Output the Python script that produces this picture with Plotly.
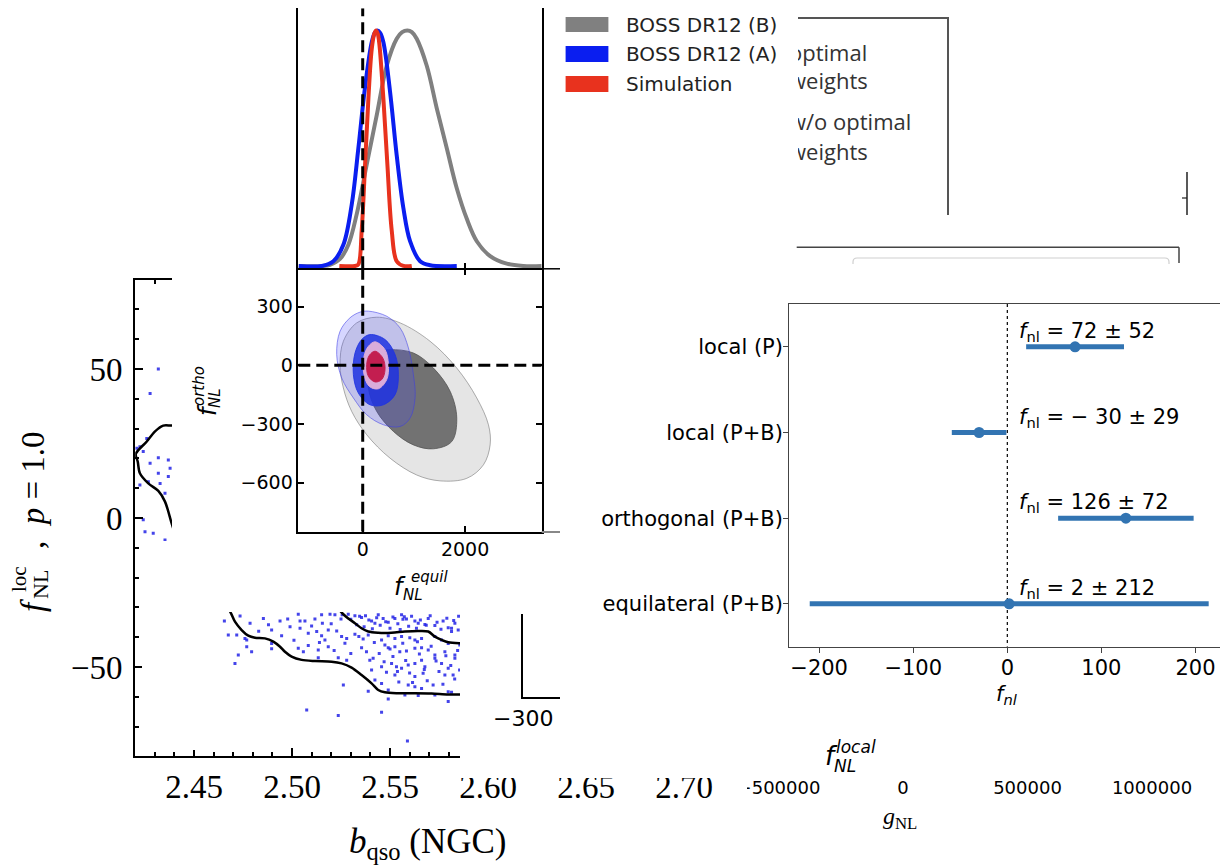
import plotly.graph_objects as go

W, H = 1228, 865
OFF = 8  # the page body adds an 8px margin; layout positions below are given in screen pixels

# ---------------- data ----------------
# left panel: b_qso (NGC) vs f_NL^loc, p = 1.0 (MCMC samples + contour segments)
bqso_x = [2.4318, 2.4276, 2.4208, 2.4224, 2.4259, 2.4241, 2.4318, 2.4276, 2.4369, 2.4378,
          2.4318, 2.4369, 2.4267, 2.4224, 2.4327, 2.4352, 2.4250, 2.4292, 2.4352, 2.4241,
          2.4655, 2.4735, 2.4786, 2.4854, 2.4939, 2.4978, 2.5032, 2.5041, 2.5066, 2.5117,
          2.5151, 2.5155, 2.5194, 2.5219, 2.5250, 2.5256, 2.5287, 2.5321, 2.5355, 2.5375,
          2.5406, 2.5423, 2.5440, 2.5465, 2.5491, 2.5525, 2.5559, 2.5573, 2.5584, 2.5627,
          2.5644, 2.5678, 2.5695, 2.5729, 2.5771, 2.5797, 2.5814, 2.5831, 2.5848,
          2.4675, 2.4718, 2.4760, 2.4769, 2.4896, 2.4947, 2.5041, 2.5083, 2.5126, 2.5151,
          2.5168, 2.5185, 2.5228, 2.5253, 2.5279, 2.5321, 2.5341, 2.5389, 2.5363, 2.5457,
          2.5491, 2.5525, 2.5559, 2.5601, 2.5627, 2.5661, 2.5729, 2.5763, 2.5797, 2.5814,
          2.4769, 2.4794, 2.4896, 2.4896, 2.5032, 2.5058, 2.5083, 2.5134, 2.5185, 2.5355,
          2.5380, 2.5474, 2.5491, 2.5525, 2.5550, 2.5584, 2.5627, 2.5661, 2.5695, 2.5729,
          2.5780, 2.5831, 2.5856,
          2.4726, 2.4709, 2.5134, 2.5236, 2.5279, 2.5397, 2.5414, 2.5457, 2.5508, 2.5533,
          2.5559, 2.5593, 2.5627, 2.5661, 2.5678, 2.5729, 2.5763, 2.5797, 2.5822, 2.5831,
          2.5406, 2.5525, 2.5627, 2.5669, 2.5780,
          2.5262, 2.5423, 2.5457, 2.5491, 2.5593, 2.5627, 2.5661, 2.5720, 2.5729, 2.5797,
          2.5389, 2.5576, 2.5491, 2.5644, 2.5814,
          2.5075, 2.5236, 2.5457, 2.5589, 2.5797,
          2.5300, 2.5330, 2.5345, 2.5368, 2.5392, 2.5410, 2.5432, 2.5450, 2.5478, 2.5500,
          2.5515, 2.5540, 2.5552, 2.5566, 2.5595, 2.5610, 2.5635, 2.5655, 2.5685, 2.5705,
          2.5740, 2.5760, 2.5790, 2.5825, 2.5850,
          2.5420, 2.5445, 2.5470, 2.5482, 2.5500, 2.5515, 2.5538, 2.5545, 2.5565, 2.5580,
          2.5600, 2.5615, 2.5640, 2.5650, 2.5675, 2.5690, 2.5710, 2.5735, 2.5750, 2.5770,
          2.5785, 2.5810, 2.5830, 2.5845, 2.5855,
          2.4990, 2.5010, 2.5100, 2.5140, 2.5200, 2.5215, 2.5270, 2.5300, 2.4830, 2.4880]
fnl_loc_y = [50.0, 41.8, 23.4, 23.9, 26.7, 22.3, 20.2, 18.4, 19.5, 16.7,
             15.0, 13.9, 12.2, 11.1, 11.6, 8.3, -4.6, -5.1, -7.4, -0.6,
             -34.6, -32.9, -35.3, -33.7, -34.6, -33.9, -32.3, -34.6, -34.6, -33.9,
             -32.5, -35.3, -32.3, -32.5, -33.9, -32.5, -32.3, -32.8, -33.4, -32.8,
             -34.6, -35.3, -32.5, -33.7, -35.0, -33.7, -32.5, -33.1, -33.9, -34.6,
             -35.3, -35.7, -33.7, -36.1, -34.6, -36.8, -38.1, -35.3, -37.6,
             -39.3, -39.3, -40.4, -40.9, -37.6, -39.5, -37.0, -38.7, -38.1, -39.5,
             -40.9, -37.6, -37.9, -39.8, -40.4, -39.0, -39.8, -39.3, -40.6, -40.9,
             -39.5, -40.4, -39.8, -40.2, -40.9, -40.4, -39.8, -40.9, -42.1, -37.0,
             -43.2, -44.9, -42.1, -43.9, -43.7, -44.9, -42.8, -44.3, -43.2, -43.5,
             -44.9, -42.6, -43.5, -43.2, -44.9, -44.6, -43.7, -43.5, -44.3, -46.0,
             -44.9, -46.0, -42.6,
             -46.0, -48.8, -46.9, -46.9, -47.7, -47.7, -47.1, -49.9, -48.8, -49.9,
             -50.4, -49.3, -48.8, -47.7, -49.9, -47.1, -48.8, -50.4, -52.7, -47.1,
             -51.0, -52.7, -53.2, -52.1, -52.7,
             -56.0, -54.4, -55.5, -57.7, -56.0, -56.6, -57.2, -56.0, -59.4, -58.3,
             -58.1, -59.4, -60.7, -59.6, -58.5,
             -64.4, -66.3, -65.2, -74.8, -61.6,
             -34.0, -35.8, -33.0, -36.5, -34.2, -37.2, -33.5, -36.0, -34.8, -37.0,
             -33.2, -35.5, -37.4, -34.0, -36.3, -33.0, -37.0, -34.2, -36.0, -32.8,
             -35.0, -37.3, -33.6, -34.4, -33.0,
             -41.8, -45.5, -48.2, -51.8, -44.0, -46.5, -51.5, -55.0, -42.0, -47.8,
             -52.0, -55.2, -41.5, -45.6, -50.8, -54.6, -43.0, -48.0, -51.5, -55.8,
             -46.2, -49.5, -54.0, -44.5, -51.0,
             -36.5, -41.0, -36.2, -41.8, -35.5, -44.5, -42.0, -45.5, -38.0, -35.8]

contour_a_x = [2.4460, 2.4386, 2.4343, 2.4300, 2.4258, 2.4203, 2.4213, 2.4224, 2.4267, 2.4318, 2.4352, 2.4386, 2.4420]
contour_a_y = [31.0, 31.0, 31.0, 29.0, 25.6, 21.5, 18.9, 15.0, 11.6, 9.1, 5.5, -1.8, -9.0]
contour_b_x = [2.4665, 2.4689, 2.4709, 2.4743, 2.4777, 2.4811, 2.4862, 2.4905, 2.4939, 2.4964, 2.4998,
               2.5049, 2.5117, 2.5202, 2.5253, 2.5304, 2.5355, 2.5406, 2.5440, 2.5474, 2.5542, 2.5627,
               2.5712, 2.5797, 2.5865, 2.5950]
contour_b_y = [-29.5, -32.0, -34.8, -37.6, -39.5, -40.2, -40.4, -41.5, -43.2, -44.9, -46.5,
               -47.6, -48.0, -48.2, -48.8, -50.2, -52.7, -55.5, -57.7, -58.5, -58.8, -58.8,
               -58.9, -59.2, -59.2, -59.3]
contour_c_x = [2.5230, 2.5262, 2.5287, 2.5321, 2.5355, 2.5389, 2.5440, 2.5508, 2.5576, 2.5644,
               2.5695, 2.5729, 2.5763, 2.5797, 2.5865, 2.5950]
contour_c_y = [-30.0, -32.3, -33.7, -35.3, -37.0, -38.1, -38.5, -38.5, -38.1, -37.9,
               -38.1, -39.8, -40.9, -41.7, -42.1, -42.3]
bqso_ticks = [2.45, 2.50, 2.55, 2.60, 2.65, 2.70]

# inset: 1D posteriors of f_NL^equil (normalised)
post_b_x = [-1250, -770, -640, -443, -280, -117, 78, 274, 469, 664, 770, 873, 960, 1055, 1251, 1446,
            1642, 1837, 2033, 2228, 2489, 2814, 3140, 3496]
post_b_y = [0, 0, 0.005, 0.03, 0.09, 0.22, 0.43, 0.64, 0.85, 0.965, 0.993, 1.0, 0.993, 0.965, 0.85,
            0.67, 0.50, 0.33, 0.20, 0.105, 0.042, 0.01, 0.0, 0.0]
post_a_x = [-1250, -800, -573, -378, -215, -85, 46, 176, 240, 287, 340, 404, 534, 664, 795, 925,
            1121, 1316, 1837]
post_a_y = [0, 0.0, 0.02, 0.09, 0.26, 0.5, 0.76, 0.95, 0.992, 1.0, 0.99, 0.95, 0.74, 0.47, 0.245,
            0.105, 0.02, 0.003, 0]
post_s_x = [-456, -150, -85, -20, 46, 111, 176, 225, 260, 295, 326, 404, 482, 567, 664, 795, 958]
post_s_y = [0, 0, 0.007, 0.15, 0.43, 0.71, 0.92, 0.985, 1.0, 0.985, 0.94, 0.71, 0.43, 0.15, 0.02, 0, 0]

# inset: 2D contours (f_NL^equil, f_NL^ortho)
b2_x = [274, 730, 1316, 1837, 2228, 2456, 2489, 2358, 2033, 1511, 1055, 534, 78, -215, -378, -443, -378, -117, 274]
b2_y = [246, 217, 123, -14, -167, -304, -407, -509, -578, -591, -561, -475, -355, -236, -116, 3, 123, 217, 246]
b1_x = [534, 990, 1381, 1707, 1837, 1739, 1381, 990, 599, 274, 111, 143, 306, 534]
b1_y = [80, 63, -14, -133, -270, -390, -427, -407, -338, -236, -116, 3, 68, 80]
a2_x = [111, 469, 730, 893, 990, 1023, 925, 730, 404, 78, -182, -410, -508, -443, -248, -52, 111]
a2_y = [277, 251, 191, 89, -48, -167, -270, -313, -304, -253, -167, -65, 55, 174, 243, 272, 277]
a1_x = [143, 436, 632, 697, 632, 404, 143, -85, -182, -150, -20, 143]
a1_y = [157, 132, 55, -48, -150, -202, -202, -142, -48, 63, 132, 157]
s2_x = [241, 436, 502, 469, 306, 130, 26, 26, 111, 241]
s2_y = [120, 80, 3, -73, -120, -108, -48, 46, 97, 120]
s1_x = [241, 391, 436, 371, 241, 111, 78, 130, 241]
s1_y = [72, 38, -22, -73, -85, -56, 3, 51, 72]
equil_ticks = [0, 2000]
ortho_ticks = [300, 0, -300, -600]
legend_names = ["BOSS DR12 (B)", "BOSS DR12 (A)", "Simulation"]
legend_colors = ["#808080", "#0a1ef0", "#e8321e"]

# right panel: f_nl constraints
shape_labels = ["local (P)", "local (P+B)", "orthogonal (P+B)", "equilateral (P+B)"]
fnl_vals = [72, -30, 126, 2]
fnl_errs = [52, 29, 72, 212]
fnl_ticks = [-200, -100, 0, 100, 200]

# fragments
frag_legend_text = ["optimal", "weights", "w/o optimal", "weights"]
gnl_ticks = [-500000, 0, 500000, 1000000]
corner_tick_label = "−300"

# ---------------- helpers ----------------
def cl(v):
    return min(1.0, max(0.0, v))

def dom_x(a, b):
    return [cl((a - OFF) / W), cl((b - OFF) / W)]

def dom_y(top, bottom):
    return [cl(1 - (bottom - OFF) / H), cl(1 - (top - OFF) / H)]

def px(x):
    return (x - OFF) / W

def py(y):
    return 1 - (y - OFF) / H

fig = go.Figure()

def sid(n):
    return '' if n == 1 else str(n)

def add_axes(n, xdom, ydom, xa=None, ya=None):
    s = sid(n)
    base = dict(showgrid=False, zeroline=False, showticklabels=False, ticks='', showline=False,
                fixedrange=True, automargin=False)
    xd = dict(base, domain=xdom, anchor='y' + s)
    xd.update(xa or {})
    yd = dict(base, domain=ydom, anchor='x' + s)
    yd.update(ya or {})
    fig.update_layout(**{'xaxis' + s: xd, 'yaxis' + s: yd})

def tr(n, **kw):
    s = sid(n)
    fig.add_trace(go.Scatter(xaxis='x' + s, yaxis='y' + s, showlegend=False, hoverinfo='skip', **kw))

def mask(n, x0, x1, top, bottom):
    add_axes(n, dom_x(x0, x1), dom_y(top, bottom),
             dict(visible=False, range=[0, 1]), dict(visible=False, range=[0, 1]))
    tr(n, x=[None], y=[None], mode='markers')

SERIF = "Liberation Serif"
SANS = "DejaVu Sans"

# 1: legend fragment (top right, clipped)
add_axes(1, dom_x(798, 947), dom_y(19, 215),
         dict(range=[798, 947], showline=True, side='top', linecolor='#555', linewidth=1.5),
         dict(range=[215, 19], showline=True, side='right', linecolor='#555', linewidth=1.5))
tr(1, x=[789, 789, 789, 789], y=[55, 83, 124, 154], mode='text', text=frag_legend_text,
   textposition='middle right', textfont=dict(family="Open Sans", size=22, color='#333'))

# 2: b_qso panel
add_axes(2, dom_x(135.2, 740), dom_y(279.6, 756.4),
         dict(range=[2.42, 2.42 + (740 - 135.2) / 1960], showline=True, mirror='ticks', linecolor='black',
              linewidth=2, ticks='inside', ticklen=8, tickwidth=1.5, tickcolor='black',
              tickvals=bqso_ticks, tickformat='.2f', showticklabels=True,
              tickfont=dict(family=SERIF, size=33, color='black'),
              minor=dict(dtick=0.01, tick0=2.42, ticks='inside', ticklen=4, tickwidth=1.5, tickcolor='black')),
         dict(range=[-80, 80], showline=True, mirror='ticks', linecolor='black', linewidth=2,
              ticks='inside', ticklen=8, tickwidth=1.5, tickcolor='black', tickvals=[-50, 0, 50],
              showticklabels=True, tickfont=dict(family=SERIF, size=33, color='black'),
              ticklabelstandoff=4,
              minor=dict(dtick=10, tick0=0, ticks='inside', ticklen=4, tickwidth=1.5, tickcolor='black')))
tr(2, x=bqso_x, y=fnl_loc_y, mode='markers',
   marker=dict(symbol='square', size=3, color='rgba(35,35,230,0.85)', line=dict(width=0)))
for cx, cy in [(contour_a_x, contour_a_y), (contour_b_x, contour_b_y), (contour_c_x, contour_c_y)]:
    tr(2, x=cx, y=cy, mode='lines', line=dict(color='black', width=2.5, shape='spline', smoothing=0.9))

# 3-5: white masks over the left panel
mask(3, 172, 798, 0, 612)
mask(4, 142, 220, 541, 750)
mask(5, 460, 800, 612, 778)

# 6: axis corner fragment
add_axes(6, dom_x(523, 560), dom_y(614, 697),
         dict(range=[-300, -260], showline=True, linecolor='black', linewidth=1.5),
         dict(range=[0, 1], showline=True, linecolor='black', linewidth=1.5))
tr(6, x=[None], y=[None], mode='markers')

# 7: inset upper (1D posteriors)
ERANGE = [-1258, 3496]
add_axes(7, dom_x(298.3, 541.7), dom_y(8.3, 268.3),
         dict(range=ERANGE, showline=True, mirror=True, linecolor='black', linewidth=1.5,
              ticks='inside', ticklen=6, tickwidth=1.5, tickcolor='black', tickvals=equil_ticks),
         dict(range=[-0.01, 1.094], showline=True, mirror=True, linecolor='black', linewidth=1.5))
tr(7, x=post_b_x, y=post_b_y, mode='lines', line=dict(color=legend_colors[0], width=4, shape='spline', smoothing=1.0))
tr(7, x=post_a_x, y=post_a_y, mode='lines', line=dict(color=legend_colors[1], width=4, shape='spline', smoothing=1.0))
tr(7, x=post_s_x, y=post_s_y, mode='lines', line=dict(color=legend_colors[2], width=4, shape='spline', smoothing=1.0))
tr(7, x=[0, 0], y=[-0.01, 1.094], mode='lines', line=dict(color='black', width=3, dash='12px,6px'))

# 8: inset lower (2D contours)
add_axes(8, dom_x(298.3, 541.7), dom_y(269.5, 531.7),
         dict(range=ERANGE, showline=True, mirror='ticks', linecolor='black', linewidth=1.5,
              ticks='inside', ticklen=6, tickwidth=1.5, tickcolor='black', tickvals=equil_ticks,
              tickformat='d', showticklabels=True, tickfont=dict(family=SANS, size=19, color='black')),
         dict(range=[-851, 490], showline=True, mirror='ticks', linecolor='black', linewidth=1.5,
              ticks='inside', ticklen=6, tickwidth=1.5, tickcolor='black', tickvals=ortho_ticks,
              showticklabels=True, tickfont=dict(family=SANS, size=19, color='black')))
for ex, ey, fc, lc in [(b2_x, b2_y, 'rgba(150,150,150,0.25)', 'rgba(120,120,120,0.6)'),
                       (b1_x, b1_y, 'rgba(85,85,85,0.8)', 'rgba(85,85,85,0.8)'),
                       (a2_x, a2_y, 'rgba(70,70,255,0.22)', 'rgba(60,60,230,0.55)'),
                       (a1_x, a1_y, 'rgba(30,50,225,0.85)', 'rgba(30,50,225,0.85)'),
                       (s2_x, s2_y, 'rgb(218,172,218)', 'rgb(218,172,218)'),
                       (s1_x, s1_y, 'rgb(195,30,80)', 'rgb(195,30,80)')]:
    tr(8, x=ex, y=ey, mode='lines', fill='toself', fillcolor=fc,
       line=dict(color=lc, width=1, shape='spline', smoothing=1.0))
tr(8, x=[0, 0], y=[-851, 490], mode='lines', line=dict(color='black', width=3, dash='12px,6px'))
tr(8, x=ERANGE, y=[0, 0], mode='lines', line=dict(color='black', width=3, dash='12px,6px'))

# 9: f_nl constraints
add_axes(9, dom_x(789.3, 1227.5), dom_y(304, 646.7),
         dict(range=[-231.7, 234.0], showline=True, mirror=True, linecolor='#444', linewidth=1.3,
              ticks='outside', ticklen=5, tickwidth=1.2, tickcolor='#444', tickvals=fnl_ticks,
              showticklabels=True, ticklabelstandoff=-3,
              tickfont=dict(family=SANS, size=21, color='black')),
         dict(range=[3.5, -0.5], showline=True, mirror=True, linecolor='#444', linewidth=1.3,
              ticks='outside', ticklen=5, tickwidth=1.2, tickcolor='#444', tickvals=[0, 1, 2, 3],
              ticktext=shape_labels, showticklabels=True, ticklabelstandoff=-4,
              tickfont=dict(family=SANS, size=21, color='black')))
tr(9, x=[0, 0], y=[-0.5, 3.5], mode='lines', line=dict(color='black', width=1.2, dash='dot'))
tr(9, x=fnl_vals, y=[0, 1, 2, 3], mode='markers',
   marker=dict(size=11, color='#3274b2'),
   error_x=dict(type='data', array=fnl_errs, thickness=5, width=0, color='#3274b2'))

# 10: g_NL tick fragment
add_axes(10, dom_x(747, 1228), dom_y(768, 775),
         dict(range=[-626506, 1305221], tickvals=gnl_ticks, tickformat='d', showticklabels=True,
              tickfont=dict(family=SANS, size=18, color='black')),
         dict(visible=False, range=[0, 1]))
tr(10, x=[None], y=[None], mode='markers')

# 11: mask cutting the g_NL tick label
mask(11, 725, 747, 700, 800)

# ---------------- decorations ----------------
shapes = []
def pline(x0, y0, x1, y1, color, width):
    shapes.append(dict(type='line', xref='paper', yref='paper', x0=px(x0), y0=py(y0), x1=px(x1), y1=py(y1),
                       line=dict(color=color, width=width), layer='above'))

pline(1187, 172, 1187, 215, '#222', 1.5)
pline(1182, 198, 1187, 198, '#222', 1.2)
pline(796.7, 247.3, 1179, 247.3, '#444', 1.5)
pline(1179, 247.3, 1179, 263, '#444', 1.5)
pline(541.7, 268.8, 560, 268.8, 'black', 1.5)
pline(541.7, 532, 560, 532, '#888', 2)
rr = "M {:.5f},{:.5f} L {:.5f},{:.5f} Q {:.5f},{:.5f} {:.5f},{:.5f} L {:.5f},{:.5f} Q {:.5f},{:.5f} {:.5f},{:.5f} L {:.5f},{:.5f}".format(
    px(853), py(264), px(853), py(262), px(853), py(258), px(857), py(258),
    px(1165), py(258), px(1169), py(258), px(1169), py(262), px(1169), py(264))
shapes.append(dict(type='path', xref='paper', yref='paper', path=rr, line=dict(color='#cfcfcf', width=1.2),
                   layer='above'))
# legend patches of the inset
for (t, b), c in zip([(17, 32), (46, 62), (76, 92)], legend_colors):
    shapes.append(dict(type='rect', xref='paper', yref='paper', x0=px(565.6), x1=px(608.4), y0=py(b), y1=py(t),
                       fillcolor=c, line=dict(width=0), layer='above'))

anns = []
def ann(text, x, y, size, family=SANS, xanchor='center', yanchor='middle', angle=0, color='black'):
    anns.append(dict(text=text, x=px(x), y=py(y), xref='paper', yref='paper', showarrow=False,
                     xanchor=xanchor, yanchor=yanchor, textangle=angle,
                     font=dict(family=family, size=size, color=color)))

for name, yc in zip(legend_names, [25, 54, 84]):
    ann(name, 623.8, yc, 20, xanchor='left', color='#222')

# left panel titles
ann("<i>b</i><sub>qso</sub> (NGC)", 428, 843, 35, SERIF)
ann("<i>f</i>", 33, 606, 33, SERIF, angle=-90)
ann("NL", 40, 585, 22, SERIF, angle=-90)
ann("loc", 19, 579, 21, SERIF, angle=-90)
ann(",  <i>p</i> = 1.0", 33, 490, 33, SERIF, angle=-90)

# inset titles
ann("<i>f</i>", 400, 587, 24)
ann("<i>equil</i>", 429, 577, 15)
ann("<i>NL</i>", 413, 595, 15)
ann("<i>f</i>", 208, 410, 24, angle=-90)
ann("<i>ortho</i>", 199, 386, 15, angle=-90)
ann("<i>NL</i>", 215, 398, 15, angle=-90)
ann(corner_tick_label, 523, 718, 22)

# other fragment titles
ann("<i>f</i>", 831, 756, 26)
ann("<i>local</i>", 856, 747, 17)
ann("<i>NL</i>", 845, 766, 17)
ann("<i>g</i><sub>NL</sub>", 900, 818, 24, SERIF)

# right panel
ann("<i>f</i><sub><i>nl</i></sub>", 1007, 695, 21)
for i, (v, e) in enumerate(zip(fnl_vals, fnl_errs)):
    vs = ("− " + str(abs(v))) if v < 0 else str(v)
    anns.append(dict(text="<i>f</i><sub>nl</sub> = {} ± {}".format(vs, e), x=10, y=i - 0.175,
                     xref='x9', yref='y9', showarrow=False, xanchor='left', yanchor='middle',
                     font=dict(family=SANS, size=21, color='black')))

fig.update_layout(width=W, height=H, autosize=False,
                  margin=dict(l=0, r=0, t=0, b=0, pad=0, autoexpand=False),
                  paper_bgcolor='white', plot_bgcolor='white', showlegend=False,
                  font=dict(family=SANS, color='black'), shapes=shapes, annotations=anns)

fig.write_html("out.html")
